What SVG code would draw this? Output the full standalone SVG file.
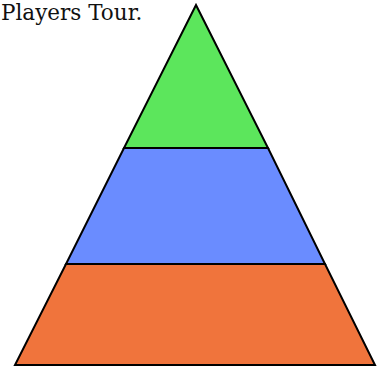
<svg xmlns="http://www.w3.org/2000/svg" width="383" height="369" viewBox="0 0 383 369">
<style>
.band{stroke:#000;stroke-width:2;stroke-linejoin:miter}
.title{font-family:"DejaVu Serif","Liberation Serif",serif;font-size:21.5px;fill:#111}
</style>
<rect width="383" height="369" fill="#fff"/>
<text class="title" x="1" y="20">Players Tour.</text>
<g id="bottom"><polygon class="band" points="66,264 325,264 375,365 15,365" fill="#f0743c"/></g>
<g id="middle"><polygon class="band" points="124,148 268,148 325,264 66,264" fill="#6a8cff"/></g>
<g id="top"><polygon class="band" points="196,5 268,148 124,148" fill="#5ce65c"/></g>
</svg>
